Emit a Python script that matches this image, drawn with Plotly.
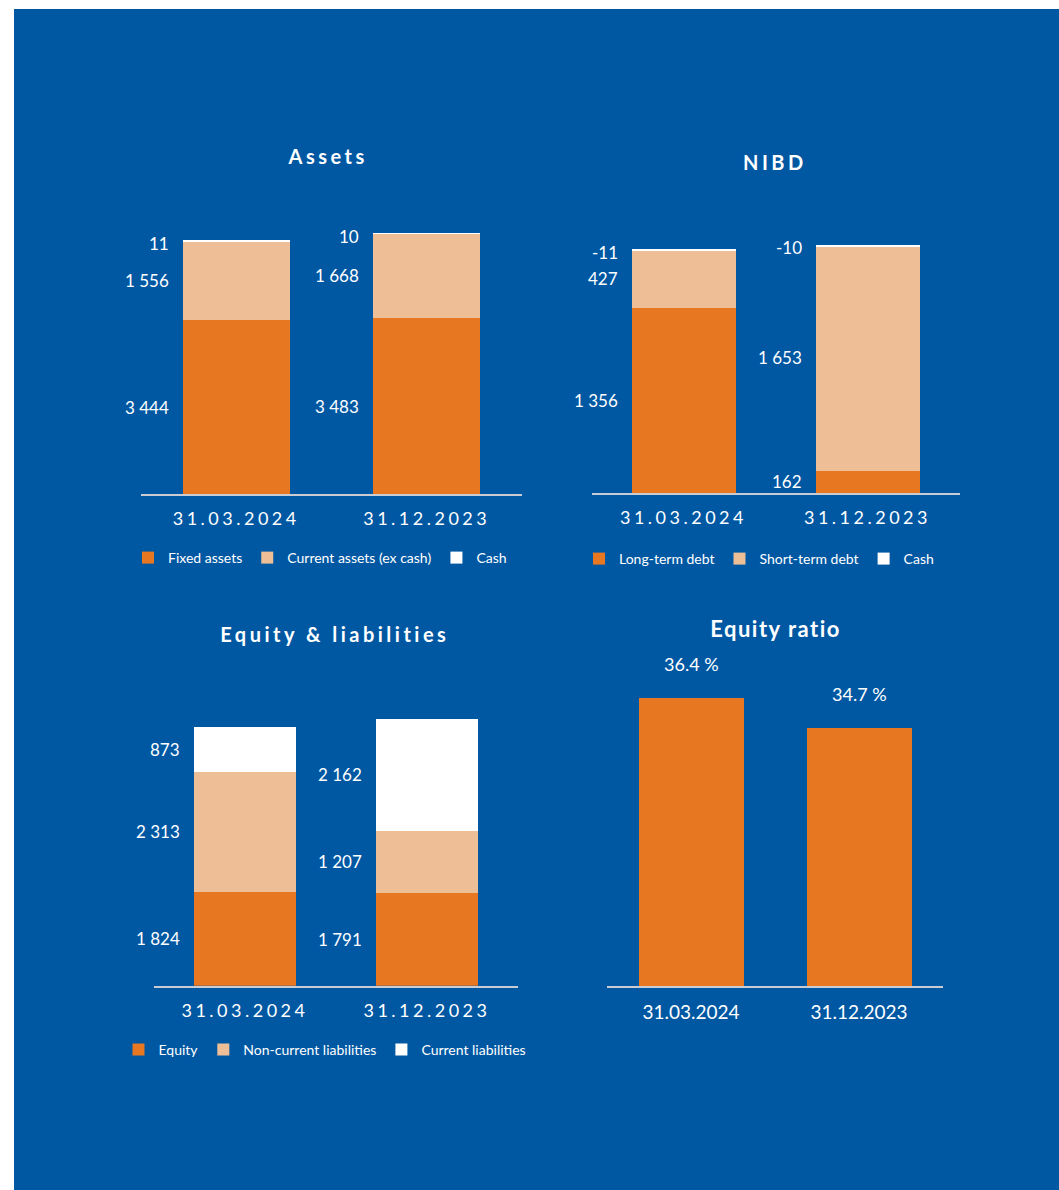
import plotly.graph_objects as go

# ---- data -------------------------------------------------------------
periods = ["31.03.2024", "31.12.2023"]

fixed_assets = [3444, 3483]
current_assets_ex_cash = [1556, 1668]
assets_cash = [11, 10]

long_term_debt = [1356, 162]
short_term_debt = [427, 1653]
nibd_cash = [-11, -10]

equity = [1824, 1791]
non_current_liabilities = [2313, 1207]
current_liabilities = [873, 2162]

equity_ratio = [36.4, 34.7]

# ---- styling ----------------------------------------------------------
ORANGE = "#E87722"
PEACH = "#EEBF97"
WHITE = "#FFFFFF"
BLUE = "#0058A3"
AXIS_LINE = "#C9CDD3"
FONT = "Lato"

W, H = 1059, 1190


def xp(px):
    return px / W


def yp(py):
    return 1 - py / H


def fmt(v):
    return f"{v:,}".replace(",", " ")


fig = go.Figure()

# panel geometry in pixels: (left, right, top, baseline), value range, bar width
panels = {
    "assets": dict(ax="", box=(141, 522, 191, 494), rng=[0, 6000], width=0.56),
    "nibd": dict(ax="2", box=(591.5, 959.5, 219.6, 493), rng=[0, 2000], width=0.56),
    "eql": dict(ax="3", box=(154, 518, 675.7, 985.7), rng=[0, 6000], width=0.56),
    "ratio": dict(ax="4", box=(607, 943, 635, 986), rng=[20, 40], width=0.625),
}

stacks = {
    "assets": ("legend", [
        ("Fixed assets", fixed_assets, ORANGE),
        ("Current assets (ex cash)", current_assets_ex_cash, PEACH),
        ("Cash", assets_cash, WHITE),
    ]),
    "nibd": ("legend2", [
        ("Long-term debt", long_term_debt, ORANGE),
        ("Short-term debt", short_term_debt, PEACH),
        ("Cash", nibd_cash, WHITE),
    ]),
    "eql": ("legend3", [
        ("Equity", equity, ORANGE),
        ("Non-current liabilities", non_current_liabilities, PEACH),
        ("Current liabilities", current_liabilities, WHITE),
    ]),
}

annotations = []

# panel titles (first four annotations)
titles = [
    ("Assets", 327, 156, 20),
    ("NIBD", 775, 162, 20),
    ("Equity &amp; liabilities", 335, 634, 20),
    ("Equity ratio", 775, 628, 22),
]
for text, x, y, size in titles:
    annotations.append(dict(
        text=f"<b>{text}</b>", x=xp(x), y=yp(y), xref="paper", yref="paper",
        xanchor="center", yanchor="middle", showarrow=False,
        font=dict(family=FONT, size=size, color=WHITE),
    ))

for key, (legend_name, series) in stacks.items():
    p = panels[key]
    ax = p["ax"]
    for name, vals, color in series:
        fig.add_trace(go.Bar(
            x=periods, y=vals, name=name, width=p["width"],
            marker=dict(color=color, line=dict(width=0)),
            xaxis="x" + ax, yaxis="y" + ax, legend=legend_name,
        ))
    # value labels to the left of each bar
    for i in range(len(periods)):
        cum = 0
        total = sum(abs(s[1][i]) for s in series)
        for name, vals, color in series:
            v = vals[i]
            base, top = cum, cum + v
            cum = top
            if abs(v) < 0.02 * total:
                ypos, ysh = max(base, top), -3
            else:
                ypos, ysh = (base + top) / 2, 0
            annotations.append(dict(
                text=fmt(v), x=i - p["width"] / 2, y=ypos,
                xref="x" + ax, yref="y" + ax, xanchor="right", yanchor="middle",
                xshift=-12, yshift=ysh, showarrow=False,
                font=dict(family=FONT, size=17, color=WHITE),
            ))

# equity ratio
pr = panels["ratio"]
fig.add_trace(go.Bar(
    x=periods, y=equity_ratio, width=pr["width"], showlegend=False,
    marker=dict(color=ORANGE, line=dict(width=0)), xaxis="x4", yaxis="y4",
))
for i, v in enumerate(equity_ratio):
    annotations.append(dict(
        text=f"{v:.1f} %", x=i, y=v, xref="x4", yref="y4",
        xanchor="center", yanchor="bottom", yshift=21, showarrow=False,
        font=dict(family=FONT, size=18, color=WHITE),
    ))

layout = dict(
    width=W, height=H, margin=dict(l=0, r=0, t=0, b=0),
    paper_bgcolor="white", plot_bgcolor="rgba(0,0,0,0)",
    barmode="stack", bargap=0, font=dict(family=FONT, color=WHITE),
    annotations=annotations,
    shapes=[dict(type="rect", xref="paper", yref="paper",
                 x0=xp(14), x1=1, y0=0, y1=yp(9),
                 fillcolor=BLUE, line=dict(width=0), layer="below")],
)

for key, p in panels.items():
    left, right, top, base = p["box"]
    ax = p["ax"]
    tick_size = 19 if key == "ratio" else 18
    layout["xaxis" + ax] = dict(
        domain=[xp(left), xp(right)], anchor="y" + ax, type="category",
        range=[-0.5, 1.5], showline=True, linecolor=AXIS_LINE, linewidth=1.5,
        showgrid=False, zeroline=False, ticks="", ticklabelstandoff=8,
        tickfont=dict(family=FONT, size=tick_size, color=WHITE), fixedrange=True,
    )
    layout["yaxis" + ax] = dict(
        domain=[yp(base), yp(top)], anchor="x" + ax, range=p["rng"],
        visible=False, showgrid=False, zeroline=False, fixedrange=True,
    )

legend_common = dict(
    orientation="h", xanchor="center", yanchor="middle",
    bgcolor="rgba(0,0,0,0)", traceorder="normal",
    font=dict(family=FONT, size=14, color=WHITE), itemclick=False,
)
layout["legend"] = dict(legend_common, x=xp(320), y=yp(558))
layout["legend2"] = dict(legend_common, x=xp(759), y=yp(559))
layout["legend3"] = dict(legend_common, x=xp(325), y=yp(1050))

fig.update_layout(layout)

# wider letter tracking on the panel titles and the upper category labels
post_js = """
(function(){
  var gd = document.getElementById('{plot_id}');
  function track(){
    if (!gd) return;
    gd.querySelectorAll('g.annotation').forEach(function(g){
      var i = parseInt(g.getAttribute('data-index'));
      var t = g.querySelector('text');
      if (!t) return;
      if (i <= 2) t.style.letterSpacing = '3.5px';
      else if (i === 3) t.style.letterSpacing = '1.5px';
    });
    ['xtick','x2tick','x3tick'].forEach(function(cls){
      gd.querySelectorAll('g.' + cls + ' text').forEach(function(t){
        t.style.letterSpacing = '3.5px';
      });
    });
  }
  track();
  setTimeout(track, 50);
  setTimeout(track, 300);
  if (gd && gd.on) gd.on('plotly_afterplot', track);
})();
"""

fig.write_html("out.html", post_script=post_js, config={"displayModeBar": False})
